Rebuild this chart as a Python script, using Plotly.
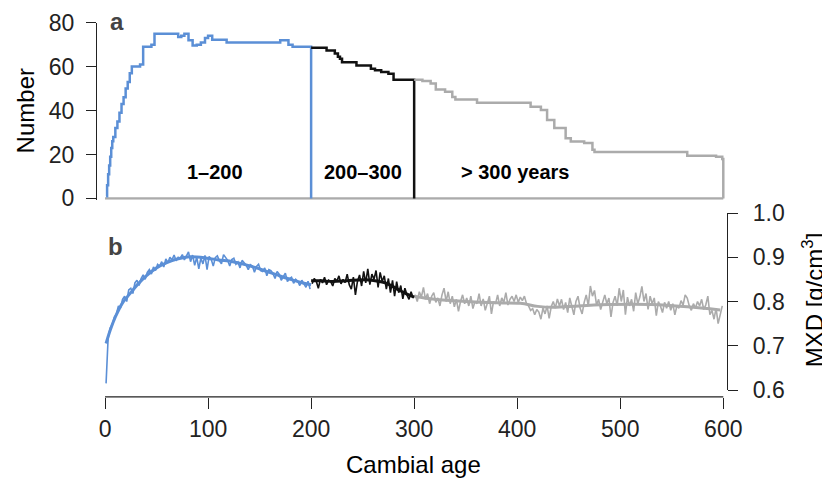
import plotly.graph_objects as go

COLOR_AZUL = "#5B8FD6"
COLOR_NEGRO = "#111111"
COLOR_GRIS = "#ABABAB"
FUENTE = "Liberation Sans"

# --- panel a: number of series by cambial age (step lines) ---
AZUL_EDAD = [1, 2, 3, 4, 5, 6, 7, 8, 10, 12, 14, 16, 18, 20, 22, 24, 26, 34, 37, 45, 48,
             71, 74, 77, 81, 85, 89, 93, 97, 100, 104, 118, 163, 170, 178, 182, 186, 200]
AZUL_NUM = [1, 6, 11, 15, 19, 23, 26, 28, 32, 35, 39, 43, 46, 50, 53, 57, 60, 61, 69, 70, 75,
            73.5, 74, 75, 72, 69.6, 70, 71, 73, 74, 72.2, 71, 71, 72, 70, 69, 69, 0]

NEGRO_EDAD = [200, 215, 223, 226, 228, 230, 244, 258, 262, 268, 275, 280, 300]
NEGRO_NUM = [68.6, 67.3, 66, 64.5, 63.6, 62, 60.5, 59, 58.3, 57.5, 56.8, 54, 0]

GRIS_EDAD = [300, 308, 316, 321, 330, 337, 340, 361, 413, 423, 429, 436, 447, 452, 465,
             473, 475, 565, 593, 599, 600]
GRIS_NUM = [54, 53.5, 52.3, 49.6, 48.5, 46.2, 45, 43.5, 41.7, 40.2, 35.7, 32, 27.4, 25.9,
            25.2, 22.1, 21.1, 19.4, 19, 18, 0]

# --- panel b: MXD raw (every 2nd year) and smoothed curves ---
AZUL_MXD = [0.615, 0.718, 0.740, 0.748, 0.765, 0.772, 0.790, 0.785, 0.805, 0.812,
            0.800, 0.826, 0.830, 0.818, 0.842, 0.848, 0.836, 0.852, 0.860, 0.850,
            0.866, 0.872, 0.862, 0.878, 0.870, 0.884, 0.880, 0.890, 0.878, 0.896,
            0.888, 0.900, 0.894, 0.905, 0.892, 0.900, 0.898, 0.906, 0.894, 0.903,
            0.912, 0.890, 0.905, 0.882, 0.900, 0.874, 0.898, 0.885, 0.904, 0.872,
            0.902, 0.896, 0.880, 0.899, 0.903, 0.892, 0.885, 0.906, 0.898, 0.893,
            0.880, 0.895, 0.898, 0.884, 0.889, 0.876, 0.893, 0.887, 0.882, 0.872,
            0.883, 0.880, 0.866, 0.879, 0.884, 0.870, 0.868, 0.876, 0.858, 0.872,
            0.870, 0.863, 0.852, 0.868, 0.862, 0.848, 0.858, 0.864, 0.845, 0.852,
            0.855, 0.841, 0.850, 0.846, 0.836, 0.848, 0.840, 0.832, 0.846, 0.828]
NEGRO_MXD = [0.840, 0.852, 0.846, 0.830, 0.850, 0.842, 0.855, 0.838, 0.848, 0.845,
             0.835, 0.852, 0.846, 0.858, 0.840, 0.850, 0.843, 0.862, 0.838, 0.828,
             0.855, 0.815, 0.846, 0.860, 0.835, 0.868, 0.842, 0.874, 0.838, 0.862,
             0.850, 0.870, 0.832, 0.866, 0.845, 0.858, 0.828, 0.852, 0.820, 0.848,
             0.812, 0.845, 0.820, 0.836, 0.806, 0.830, 0.815, 0.805, 0.822, 0.808]
GRIS_MXD = [0.815, 0.800, 0.822, 0.810, 0.832, 0.805, 0.818, 0.795, 0.812, 0.820,
            0.798, 0.808, 0.790, 0.815, 0.830, 0.800, 0.822, 0.795, 0.812, 0.788,
            0.805, 0.778, 0.800, 0.815, 0.795, 0.808, 0.790, 0.812, 0.784, 0.800,
            0.795, 0.818, 0.790, 0.806, 0.780, 0.798, 0.812, 0.772, 0.800, 0.795,
            0.815, 0.790, 0.808, 0.798, 0.820, 0.792, 0.805, 0.812, 0.800, 0.815,
            0.798, 0.810, 0.802, 0.812, 0.795, 0.790, 0.780, 0.784, 0.770, 0.782,
            0.776, 0.760, 0.785, 0.772, 0.790, 0.762, 0.788, 0.800, 0.785, 0.806,
            0.790, 0.805, 0.782, 0.798, 0.775, 0.808, 0.790, 0.770, 0.800, 0.812,
            0.785, 0.772, 0.798, 0.815, 0.790, 0.835, 0.812, 0.825, 0.792, 0.805,
            0.782, 0.800, 0.815, 0.795, 0.808, 0.765, 0.798, 0.812, 0.790, 0.830,
            0.800, 0.826, 0.770, 0.810, 0.790, 0.805, 0.778, 0.820, 0.795, 0.810,
            0.834, 0.800, 0.818, 0.782, 0.812, 0.795, 0.808, 0.768, 0.800, 0.790,
            0.775, 0.798, 0.785, 0.800, 0.780, 0.795, 0.770, 0.790, 0.785, 0.802,
            0.792, 0.815, 0.808, 0.790, 0.780, 0.795, 0.785, 0.800, 0.790, 0.805,
            0.782, 0.792, 0.812, 0.770, 0.780, 0.760, 0.785, 0.750, 0.772, 0.790]
AZUL_MXD_EDAD = list(range(1, 1 + 2 * len(AZUL_MXD), 2))
NEGRO_MXD_EDAD = list(range(201, 201 + 2 * len(NEGRO_MXD), 2))
GRIS_MXD_EDAD = list(range(301, 301 + 2 * len(GRIS_MXD), 2))

AZUL_SUAVE_EDAD = [1, 5, 10, 17, 25, 31, 40, 50, 60, 70, 82, 99, 110, 124, 135, 147, 157,
                   167, 180, 192, 200]
AZUL_SUAVE = [0.705, 0.735, 0.765, 0.797, 0.820, 0.837, 0.858, 0.876, 0.888, 0.896, 0.901,
              0.898, 0.894, 0.890, 0.884, 0.876, 0.868, 0.860, 0.850, 0.842, 0.838]
NEGRO_SUAVE_EDAD = [200, 210, 221, 235, 253, 265, 272, 280, 285, 292, 300]
NEGRO_SUAVE = [0.847, 0.847, 0.845, 0.847, 0.849, 0.846, 0.842, 0.833, 0.826, 0.818, 0.810]
GRIS_SUAVE_EDAD = [300, 320, 350, 380, 403, 420, 435, 460, 490, 530, 565, 597]
GRIS_SUAVE = [0.812, 0.805, 0.800, 0.797, 0.796, 0.789, 0.787, 0.790, 0.793, 0.793, 0.788, 0.781]

X_TICKS = [0, 100, 200, 300, 400, 500, 600]
Y1_TICKS = [0, 20, 40, 60, 80]
Y2_TICKS = [0.6, 0.7, 0.8, 0.9, 1.0]

ETIQUETAS = ["1–200", "200–300", "> 300 years"]
ETIQUETAS_X = [107, 250, 398]

fig = go.Figure()

for edad, num, color in [(AZUL_EDAD, AZUL_NUM, COLOR_AZUL),
                         (NEGRO_EDAD, NEGRO_NUM, COLOR_NEGRO),
                         (GRIS_EDAD, GRIS_NUM, COLOR_GRIS)]:
    fig.add_trace(go.Scatter(x=edad, y=num, mode="lines", line_shape="hv",
                             line=dict(color=color, width=2.5),
                             xaxis="x", yaxis="y", showlegend=False))

for edad, mxd, color in [(AZUL_MXD_EDAD, AZUL_MXD, COLOR_AZUL),
                         (GRIS_MXD_EDAD, GRIS_MXD, COLOR_GRIS),
                         (NEGRO_MXD_EDAD, NEGRO_MXD, COLOR_NEGRO)]:
    fig.add_trace(go.Scatter(x=edad, y=mxd, mode="lines",
                             line=dict(color=color, width=1.6),
                             xaxis="x2", yaxis="y2", showlegend=False))

for edad, mxd, color in [(AZUL_SUAVE_EDAD, AZUL_SUAVE, COLOR_AZUL),
                         (GRIS_SUAVE_EDAD, GRIS_SUAVE, COLOR_GRIS),
                         (NEGRO_SUAVE_EDAD, NEGRO_SUAVE, COLOR_NEGRO)]:
    fig.add_trace(go.Scatter(x=edad, y=mxd, mode="lines", line_shape="spline",
                             line=dict(color=color, width=3),
                             xaxis="x2", yaxis="y2", showlegend=False))

# baseline of panel a and x axis line of panel b (R style, tick to tick)
fig.add_shape(type="line", xref="x", yref="y", x0=X_TICKS[0], x1=X_TICKS[-1], y0=0, y1=0,
              line=dict(color=COLOR_GRIS, width=2.5), layer="below")
POS_X2 = 0.008
fig.add_shape(type="line", xref="x2", yref="paper", x0=X_TICKS[0], x1=X_TICKS[-1],
              y0=POS_X2, y1=POS_X2, line=dict(color="#222", width=1.3))

centro = dict(showarrow=False, xanchor="center", yanchor="middle")

for texto, x in zip(ETIQUETAS, ETIQUETAS_X):
    fig.add_annotation(x=x, y=12.2, xref="x", yref="y", text=texto, **centro,
                       font=dict(family=FUENTE, size=20, color="black", weight="bold"))

for letra, x, y in [("a", 0.032, 0.995), ("b", 0.029, 0.405)]:
    fig.add_annotation(x=x, y=y, xref="paper", yref="paper", text=letra, **centro,
                       font=dict(family=FUENTE, size=24, color="#444", weight="bold"))

fig.add_annotation(x=-0.114, y=0.76, xref="paper", yref="paper", text="Number", textangle=-90,
                   **centro, font=dict(family=FUENTE, size=24, color="black"))
fig.add_annotation(x=0.503, y=-0.171, xref="paper", yref="paper", text="Cambial age",
                   **centro, font=dict(family=FUENTE, size=24, color="black"))
fig.add_annotation(x=1.137, y=0.263, xref="paper", yref="paper", text="MXD [g/cm<sup>3</sup>]",
                   textangle=-90, **centro, font=dict(family=FUENTE, size=24, color="black"))

ejes_comunes = dict(showgrid=False, zeroline=False, ticks="outside", tickcolor="#222",
                    linecolor="#222", linewidth=1.3, tickwidth=1.3, automargin=False,
                    tickfont=dict(family=FUENTE, size=23, color="#222"))

# the page body adds 8 px around the figure, so the figure is 8 px smaller
fig.update_layout(
    width=822,
    height=471,
    margin=dict(l=89, r=103, t=12, b=79),
    paper_bgcolor="white",
    plot_bgcolor="white",
    xaxis=dict(domain=[0, 1], range=[-7.8, 603.6], visible=False, anchor="y",
               automargin=False),
    yaxis=dict(domain=[0.527, 0.993], range=[-0.6, 80], tickvals=Y1_TICKS, ticklen=10,
               ticklabelstandoff=7, showline=True, anchor="x", **ejes_comunes),
    xaxis2=dict(domain=[0, 1], range=[-7.8, 603.6], tickvals=X_TICKS, ticklen=11,
                showline=False, anchor="free", position=POS_X2, **ejes_comunes),
    yaxis2=dict(domain=[0.0263, 0.4921], range=[0.6, 1.0], tickvals=Y2_TICKS,
                tickformat=".1f", ticklen=10, ticklabelstandoff=10, showline=True,
                side="right", anchor="x2", **ejes_comunes),
)

fig.write_html("out.html")
